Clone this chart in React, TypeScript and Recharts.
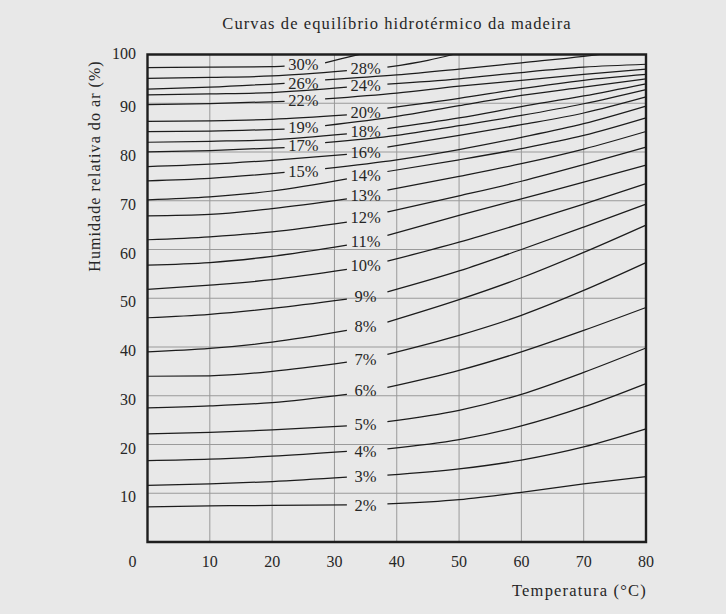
import React from 'react';
import {
  LineChart,
  Line,
  XAxis,
  YAxis,
  CartesianGrid,
  ReferenceDot,
  ReferenceArea,
  Customized,
} from 'recharts';

// ---- axis ticks ----
const X_TICKS = [0, 10, 20, 30, 40, 50, 60, 70, 80];
const Y_TICKS = [10, 20, 30, 40, 50, 60, 70, 80, 90, 100];

// ---- temperature grids (°C) ----
const T_RIGHT = [0, 10, 20, 32, 35, 38.5, 50, 60, 70, 80];
const T_LEFT = [0, 10, 22, 25, 28.5, 40, 50, 60, 70, 80];
const T_30 = [0, 10, 20, 22, 25, 28.5, 31, 34];
const T_28 = [0, 10, 20, 32, 35, 38.5, 45, 49];
const T_26 = [0, 10, 22, 25, 28.5, 40, 50, 60, 70, 72.6];

// ---- relative humidity (%) for each wood moisture content curve (null = label gap) ----
const RH_30 = [97.3, 97.4, 97.5, 97.6, null, 98.3, 99.1, 100];
const RH_28 = [95.1, 95.3, 95.6, 96.7, null, 97.4, 98.8, 100];
const RH_26 = [92.9, 93.3, 94.1, null, 94.8, 95.8, 97.0, 98.3, 99.6, 100];
const RH_24 = [91.7, 91.9, 92.2, 93.3, null, 93.9, 95.0, 96.3, 97.4, 98.0];
const RH_22 = [89.7, 89.9, 90.4, null, 90.9, 92.1, 93.5, 94.7, 95.9, 97.0];
const RH_20 = [86.3, 86.4, 86.7, 87.6, null, 89.0, 91.0, 93.0, 94.7, 95.9];
const RH_19 = [84.2, 84.3, 84.7, null, 85.4, 87.3, 89.5, 91.6, 93.3, 95.0];
const RH_18 = [82.0, 82.2, 82.5, 83.7, null, 84.8, 87.0, 89.3, 91.5, 94.0];
const RH_17 = [80.0, 80.3, 80.9, null, 81.9, 83.4, 85.4, 87.5, 89.9, 92.8];
const RH_16 = [77.0, 77.5, 78.3, 79.5, null, 81.0, 83.4, 85.6, 88.0, 91.3];
const RH_15 = [74.1, 74.6, 75.8, null, 76.6, 78.4, 80.5, 83.0, 85.8, 89.4];
const RH_14 = [70.2, 70.8, 72.0, 74.5, null, 76.0, 78.4, 80.7, 83.4, 87.0];
const RH_13 = [66.9, 67.2, 68.4, 70.4, null, 72.2, 75.0, 77.6, 80.6, 84.2];
const RH_12 = [62.0, 62.6, 63.6, 65.6, null, 67.7, 71.0, 74.0, 77.4, 81.0];
const RH_11 = [56.8, 57.3, 58.6, 60.9, null, 62.9, 67.0, 70.4, 73.8, 77.3];
const RH_10 = [51.8, 52.7, 53.8, 55.9, null, 57.6, 61.5, 65.3, 69.3, 73.5];
const RH_9 = [46.0, 46.7, 47.9, 49.8, null, 51.3, 55.6, 60.0, 64.6, 69.3];
const RH_8 = [39.0, 39.7, 41.0, 43.4, null, 45.1, 49.7, 54.2, 59.4, 65.0];
const RH_7 = [34.0, 34.1, 35.0, 36.9, null, 38.5, 42.4, 46.5, 51.6, 57.3];
const RH_6 = [27.5, 27.9, 28.6, 30.3, null, 31.7, 35.2, 39.0, 43.4, 48.1];
const RH_5 = [22.2, 22.5, 23.0, 23.8, null, 24.7, 27.0, 30.3, 34.8, 39.8];
const RH_4 = [16.7, 17.0, 17.6, 18.6, null, 19.1, 21.0, 23.8, 27.7, 32.5];
const RH_3 = [11.6, 11.9, 12.4, 13.3, null, 13.7, 15.0, 16.8, 19.5, 23.2];
const RH_2 = [7.2, 7.4, 7.5, 7.6, null, 7.8, 8.7, 10.2, 11.9, 13.4];

// ---- curve labels ----
const CURVE_NAMES = ['30%', '28%', '26%', '24%', '22%', '20%', '19%', '18%', '17%', '16%', '15%', '14%', '13%', '12%', '11%', '10%', '9%', '8%', '7%', '6%', '5%', '4%', '3%', '2%'];
const LABEL_T = [25, 35, 25, 35, 25, 35, 25, 35, 25, 35, 25, 35, 35, 35, 35, 35, 35, 35, 35, 35, 35, 35, 35, 35];
const LABEL_RH = [98.1, 97.3, 94.2, 93.7, 90.6, 88.2, 85.1, 84.3, 81.4, 80.0, 76.0, 75.2, 71.2, 66.7, 61.8, 56.8, 50.4, 44.3, 37.5, 31.2, 24.1, 18.7, 13.5, 7.6];

const CURVE_TEMPS = [T_30, T_28, T_26, T_RIGHT, T_LEFT, T_RIGHT, T_LEFT, T_RIGHT, T_LEFT, T_RIGHT, T_LEFT, T_RIGHT, T_RIGHT, T_RIGHT, T_RIGHT, T_RIGHT, T_RIGHT, T_RIGHT, T_RIGHT, T_RIGHT, T_RIGHT, T_RIGHT, T_RIGHT, T_RIGHT];
const CURVE_RH = [RH_30, RH_28, RH_26, RH_24, RH_22, RH_20, RH_19, RH_18, RH_17, RH_16, RH_15, RH_14, RH_13, RH_12, RH_11, RH_10, RH_9, RH_8, RH_7, RH_6, RH_5, RH_4, RH_3, RH_2];

const SERIES = CURVE_NAMES.map((name, i) => ({
  name,
  data: CURVE_TEMPS[i].map((t, j) => ({ t, rh: CURVE_RH[i][j] })),
}));

const FONT = "'Liberation Serif', 'Times New Roman', serif";
const INK = '#262626';
const BG = '#e8e8e8';

const XTick = (props: any) => {
  const { x, y, payload } = props;
  const shift = payload.value === 0 ? -15 : 0;
  return (
    <text x={x + shift} y={y + 17} textAnchor="middle" fontFamily={FONT} fontSize={16} fill={INK}>
      {payload.value}
    </text>
  );
};

const YTick = (props: any) => {
  const { x, y, payload } = props;
  const dy = payload.value === 100 ? 4.6 : 9.2;
  return (
    <text x={x - 3.5} y={y + dy} textAnchor="end" fontFamily={FONT} fontSize={16} fill={INK}>
      {payload.value}
    </text>
  );
};

const Titles = () => (
  <g fontFamily={FONT} fill={INK}>
    <text x={397} y={29} textAnchor="middle" fontSize={16.5} letterSpacing={1.1}>
      Curvas de equilíbrio hidrotérmico da madeira
    </text>
    <text x={647} y={596} textAnchor="end" fontSize={16.5} letterSpacing={1.2}>
      Temperatura (°C)
    </text>
    <text
      x={0}
      y={0}
      transform="translate(99.5,166) rotate(-90)"
      textAnchor="middle"
      fontSize={16}
      letterSpacing={1.05}
    >
      Humidade relativa do ar (%)
    </text>
  </g>
);

export default function App() {
  return (
    <div style={{ position: 'fixed', left: 0, top: 0, width: 726, height: 614, background: BG }}>
      <LineChart
        width={726}
        height={614}
        margin={{ top: 54.5, right: 80, bottom: 32, left: 87.5 }}
      >
        <CartesianGrid stroke="#9a9a9a" strokeWidth={1} verticalValues={X_TICKS} horizontalValues={Y_TICKS} />
        <XAxis
          type="number"
          dataKey="t"
          domain={[0, 80]}
          ticks={X_TICKS}
          height={40}
          axisLine={false}
          tickLine={false}
          tick={<XTick />}
          allowDuplicatedCategory={false}
        />
        <YAxis
          type="number"
          domain={[0, 100]}
          ticks={Y_TICKS}
          width={60}
          axisLine={false}
          tickLine={false}
          tick={<YTick />}
        />
        {SERIES.map((s) => (
          <Line
            key={s.name}
            data={s.data}
            dataKey="rh"
            name={s.name}
            type="monotone"
            stroke="#1c1c1c"
            strokeWidth={1.25}
            dot={false}
            activeDot={false}
            connectNulls={false}
            isAnimationActive={false}
          />
        ))}
        <ReferenceArea x1={0} x2={80} y1={0} y2={100} fill="none" stroke="#1e1e1e" strokeWidth={2.4} />
        {SERIES.map((s, i) => (
          <ReferenceDot
            key={'lbl' + s.name}
            x={LABEL_T[i]}
            y={LABEL_RH[i]}
            r={1}
            shape={(p: any) => (
              <text
                x={p.cx}
                y={p.cy}
                dy="0.36em"
                textAnchor="middle"
                fontFamily={FONT}
                fontSize={16.5}
                fill={INK}
              >
                {s.name}
              </text>
            )}
          />
        ))}
        <Customized component={Titles} />
      </LineChart>
    </div>
  );
}
